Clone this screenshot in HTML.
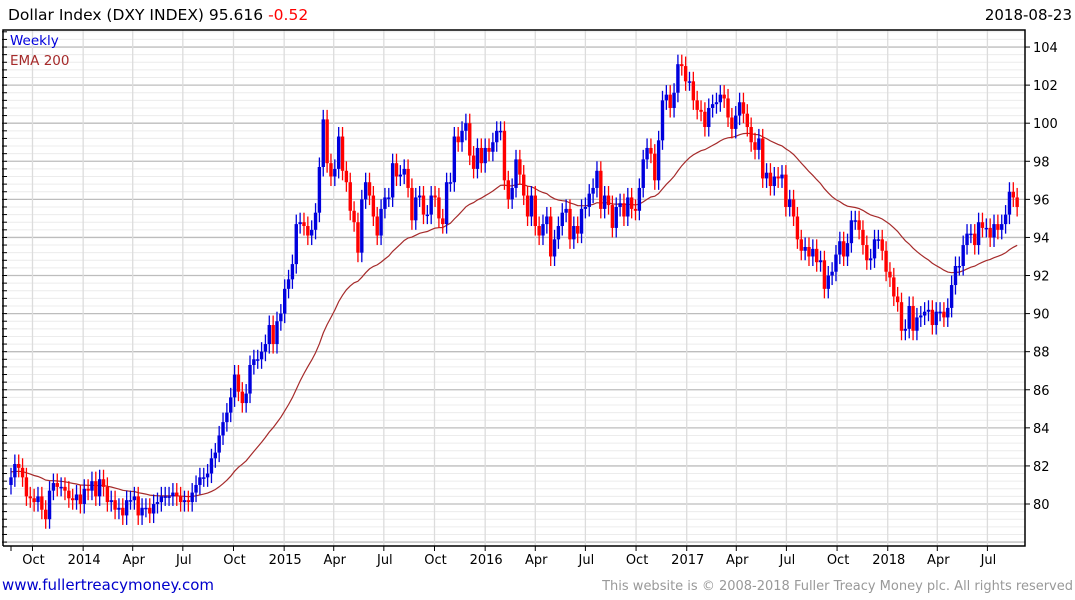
<!DOCTYPE html>
<html><head><meta charset="utf-8">
<style>
body{margin:0;background:#fff;font-family:"Liberation Sans","DejaVu Sans",sans-serif;}
#wrap{position:relative;width:1075px;height:600px;overflow:hidden;}
svg text{font-family:"DejaVu Sans","Liberation Sans",sans-serif;}
</style></head>
<body>
<div id="wrap">
<svg id="chart" width="1075" height="600">
<text x="8" y="20" font-size="15.5" fill="#000">Dollar Index (DXY INDEX) 95.616 <tspan fill="#f00">-0.52</tspan></text>
<text x="1072" y="20" font-size="15" text-anchor="end" fill="#000">2018-08-23</text>
<g id="grid"></g>
<g id="ema"></g>
<g id="candles"></g>
<g id="axes"></g>
<text x="10" y="45" font-size="13.5" fill="#0000dd">Weekly</text>
<text x="10" y="65" font-size="13.5" fill="#a52a2a">EMA 200</text>
<text x="2" y="590" font-size="15" fill="#0000cc">www.fullertreacymoney.com</text>
<text x="1073" y="590" font-size="13" text-anchor="end" fill="#999">This website is © 2008-2018 Fuller Treacy Money plc. All rights reserved</text>
</svg>
</div>
<script>
const closes = [81.4,82.1,81.9,81.4,80.4,80.3,80.1,80.4,79.7,79.2,80.7,81.1,80.9,80.9,80.7,80.3,80.2,80.5,80.0,
80.8,80.7,81.2,80.4,81.3,80.9,80.1,80.2,79.7,79.8,79.4,80.2,80.2,80.4,79.4,79.8,79.8,79.5,80.0,80.1,80.4,80.4,80.4,80.6,80.4,80.1,80.2,80.1,80.6,81.0,81.4,81.4,81.6,82.4,82.7,83.6,84.3,84.8,85.6,86.8,85.9,85.3,85.8,87.3,87.6,87.6,88.0,88.4,89.4,88.4,89.6,90.0,
91.3,91.8,92.6,94.7,94.8,94.6,94.1,94.4,95.3,97.7,100.2,97.9,97.2,97.6,99.3,97.5,96.9,95.4,94.8,93.2,96.0,96.9,96.2,95.1,94.1,95.5,96.1,96.1,97.9,97.2,97.3,97.6,96.6,94.9,96.1,96.2,95.2,95.2,96.2,96.1,95.0,94.7,96.9,96.9,99.3,99.0,99.6,100.0,98.3,97.6,98.7,97.9,
98.7,98.5,99.0,99.6,99.6,97.0,96.0,96.6,98.1,97.3,96.2,95.1,96.2,94.6,94.1,94.7,95.1,93.0,93.9,94.6,95.3,95.5,93.9,94.6,94.2,95.5,95.6,96.3,96.6,97.5,95.5,96.2,95.7,94.5,95.6,95.8,95.1,96.1,95.5,95.4,96.6,98.1,98.7,98.4,97.0,99.1,101.2,101.5,100.8,101.6,103.1,103.0,102.2,
102.2,101.2,100.7,100.6,99.8,100.8,101.0,101.1,101.5,101.3,100.3,99.7,100.4,101.1,100.5,99.8,99.0,98.6,99.2,97.1,97.4,96.7,97.2,97.1,97.3,95.6,96.0,95.1,93.9,93.3,93.5,93.0,93.4,92.7,92.8,91.3,92.0,92.2,93.1,93.8,93.0,93.7,94.9,94.9,94.4,93.6,92.8,92.9,93.9,93.9,93.3,92.2,
91.9,90.9,90.6,89.1,89.2,90.4,89.1,89.8,89.9,90.1,90.2,89.4,90.1,90.1,89.8,90.3,91.5,92.5,92.5,93.6,94.2,94.2,93.6,94.8,94.5,94.5,94.0,94.7,94.4,94.7,95.2,96.4,96.1,95.6];
const firstOpen = 81.0;
const yTicks = [80,82,84,86,88,90,92,94,96,98,100,102,104];
const xTickLabels = ["Oct","2014","Apr","Jul","Oct","2015","Apr","Jul","Oct","2016","Apr","Jul","Oct","2017","Apr","Jul","Oct","2018","Apr","Jul"];
const xTickDates = ["2013-10-01","2014-01-01","2014-04-01","2014-07-01","2014-10-01","2015-01-01","2015-04-01","2015-07-01","2015-10-01","2016-01-01","2016-04-01","2016-07-01","2016-10-01","2017-01-01","2017-04-01","2017-07-01","2017-10-01","2018-01-01","2018-04-01","2018-07-01"];
const emaStart = 81.7;

const NS="http://www.w3.org/2000/svg";
const L=5,R=1025,T=30,B=546;
const X0=11, STEP=3.855, START=Date.UTC(2013,7,23);
function yS(v){return 504-(v-80)*19.04;}
function xI(i){return X0+STEP*i;}
function xD(s){const p=s.split('-');const d=(Date.UTC(+p[0],+p[1]-1,+p[2])-START)/86400000;return X0+d/7*STEP;}
function mk(tag,attrs,parent){const e=document.createElementNS(NS,tag);for(const k in attrs)e.setAttribute(k,attrs[k]);parent.appendChild(e);return e;}

const grid=document.getElementById('grid'), axes=document.getElementById('axes');
for(let v=78;v<=104.9;v+=0.4){const vv=Math.round(v*10)/10;const y=yS(vv);if(y<T||y>B)continue;
 const major=Math.abs(vv/2-Math.round(vv/2))<1e-6;
 const ln=mk('line',{x1:L,x2:R,y1:y,y2:y,stroke:major?'#bdbdbd':'#ececec','stroke-width':major?1.3:1},grid);
 
 
 const t=mk('line',{x1:L-3,x2:L+2,y1:y,y2:y,stroke:'#000','stroke-width':1},axes);
 
 
}
xTickDates.forEach((d,k)=>{const x=xD(d);
 const g=mk('line',{x1:x,x2:x,y1:T,y2:B,stroke:'#dcdcdc','stroke-width':1.3},grid);
 
 
 const tk=mk('line',{x1:x,x2:x,y1:B,y2:B+5,stroke:'#000'},axes);
 
 
 const tx=mk('text',{x:x+1,y:B+18,'font-size':13,'text-anchor':'middle',fill:'#000'},axes);
 tx.textContent=xTickLabels[k];
 
 
});
{const tk=mk('line',{x1:xI(0),x2:xI(0),y1:B,y2:B+5,stroke:'#000'},axes);
 
 }
yTicks.forEach(v=>{const y=yS(v);
 const t=mk('line',{x1:R,x2:R+5,y1:y,y2:y,stroke:'#000'},axes);
 
 
 const tx=mk('text',{x:R+8,y:y+5,'font-size':13,fill:'#000'},axes);
 tx.textContent=v;
 
 
});
const fr=mk('path',{d:`M${L-2},${B} L${L-2},${T} L${R},${T} L${R},${B} L${L-2},${B}`,fill:'none',stroke:'#000','stroke-width':1.5},axes);



const a=2/41;let e=emaStart;let pts=[];
closes.forEach((c,i)=>{e=e+a*(c-e);pts.push(xI(i).toFixed(1)+','+yS(e).toFixed(1));});
const emaL=mk('polyline',{points:pts.join(' '),fill:'none',stroke:'#a52a2a','stroke-width':1.2},document.getElementById('ema'));



const cg=document.getElementById('candles');
closes.forEach((c,i)=>{const o=i?closes[i-1]:firstOpen;const up=c>=o;const col=up?'#0000dd':'#ff0000';
 const hi=Math.max(o,c)+0.5, lo=Math.min(o,c)-0.5;const x=xI(i);
 const w=mk('line',{x1:x,x2:x,y1:yS(hi),y2:yS(lo),stroke:col,'stroke-width':1.3},cg);
 
 
 const top=yS(Math.max(o,c)),h=Math.max(1.5,yS(Math.min(o,c))-top);
 const b=mk('rect',{x:x-1.7,y:top,width:3.4,height:h,fill:col},cg);
 
 
});
</script>
</body></html>
